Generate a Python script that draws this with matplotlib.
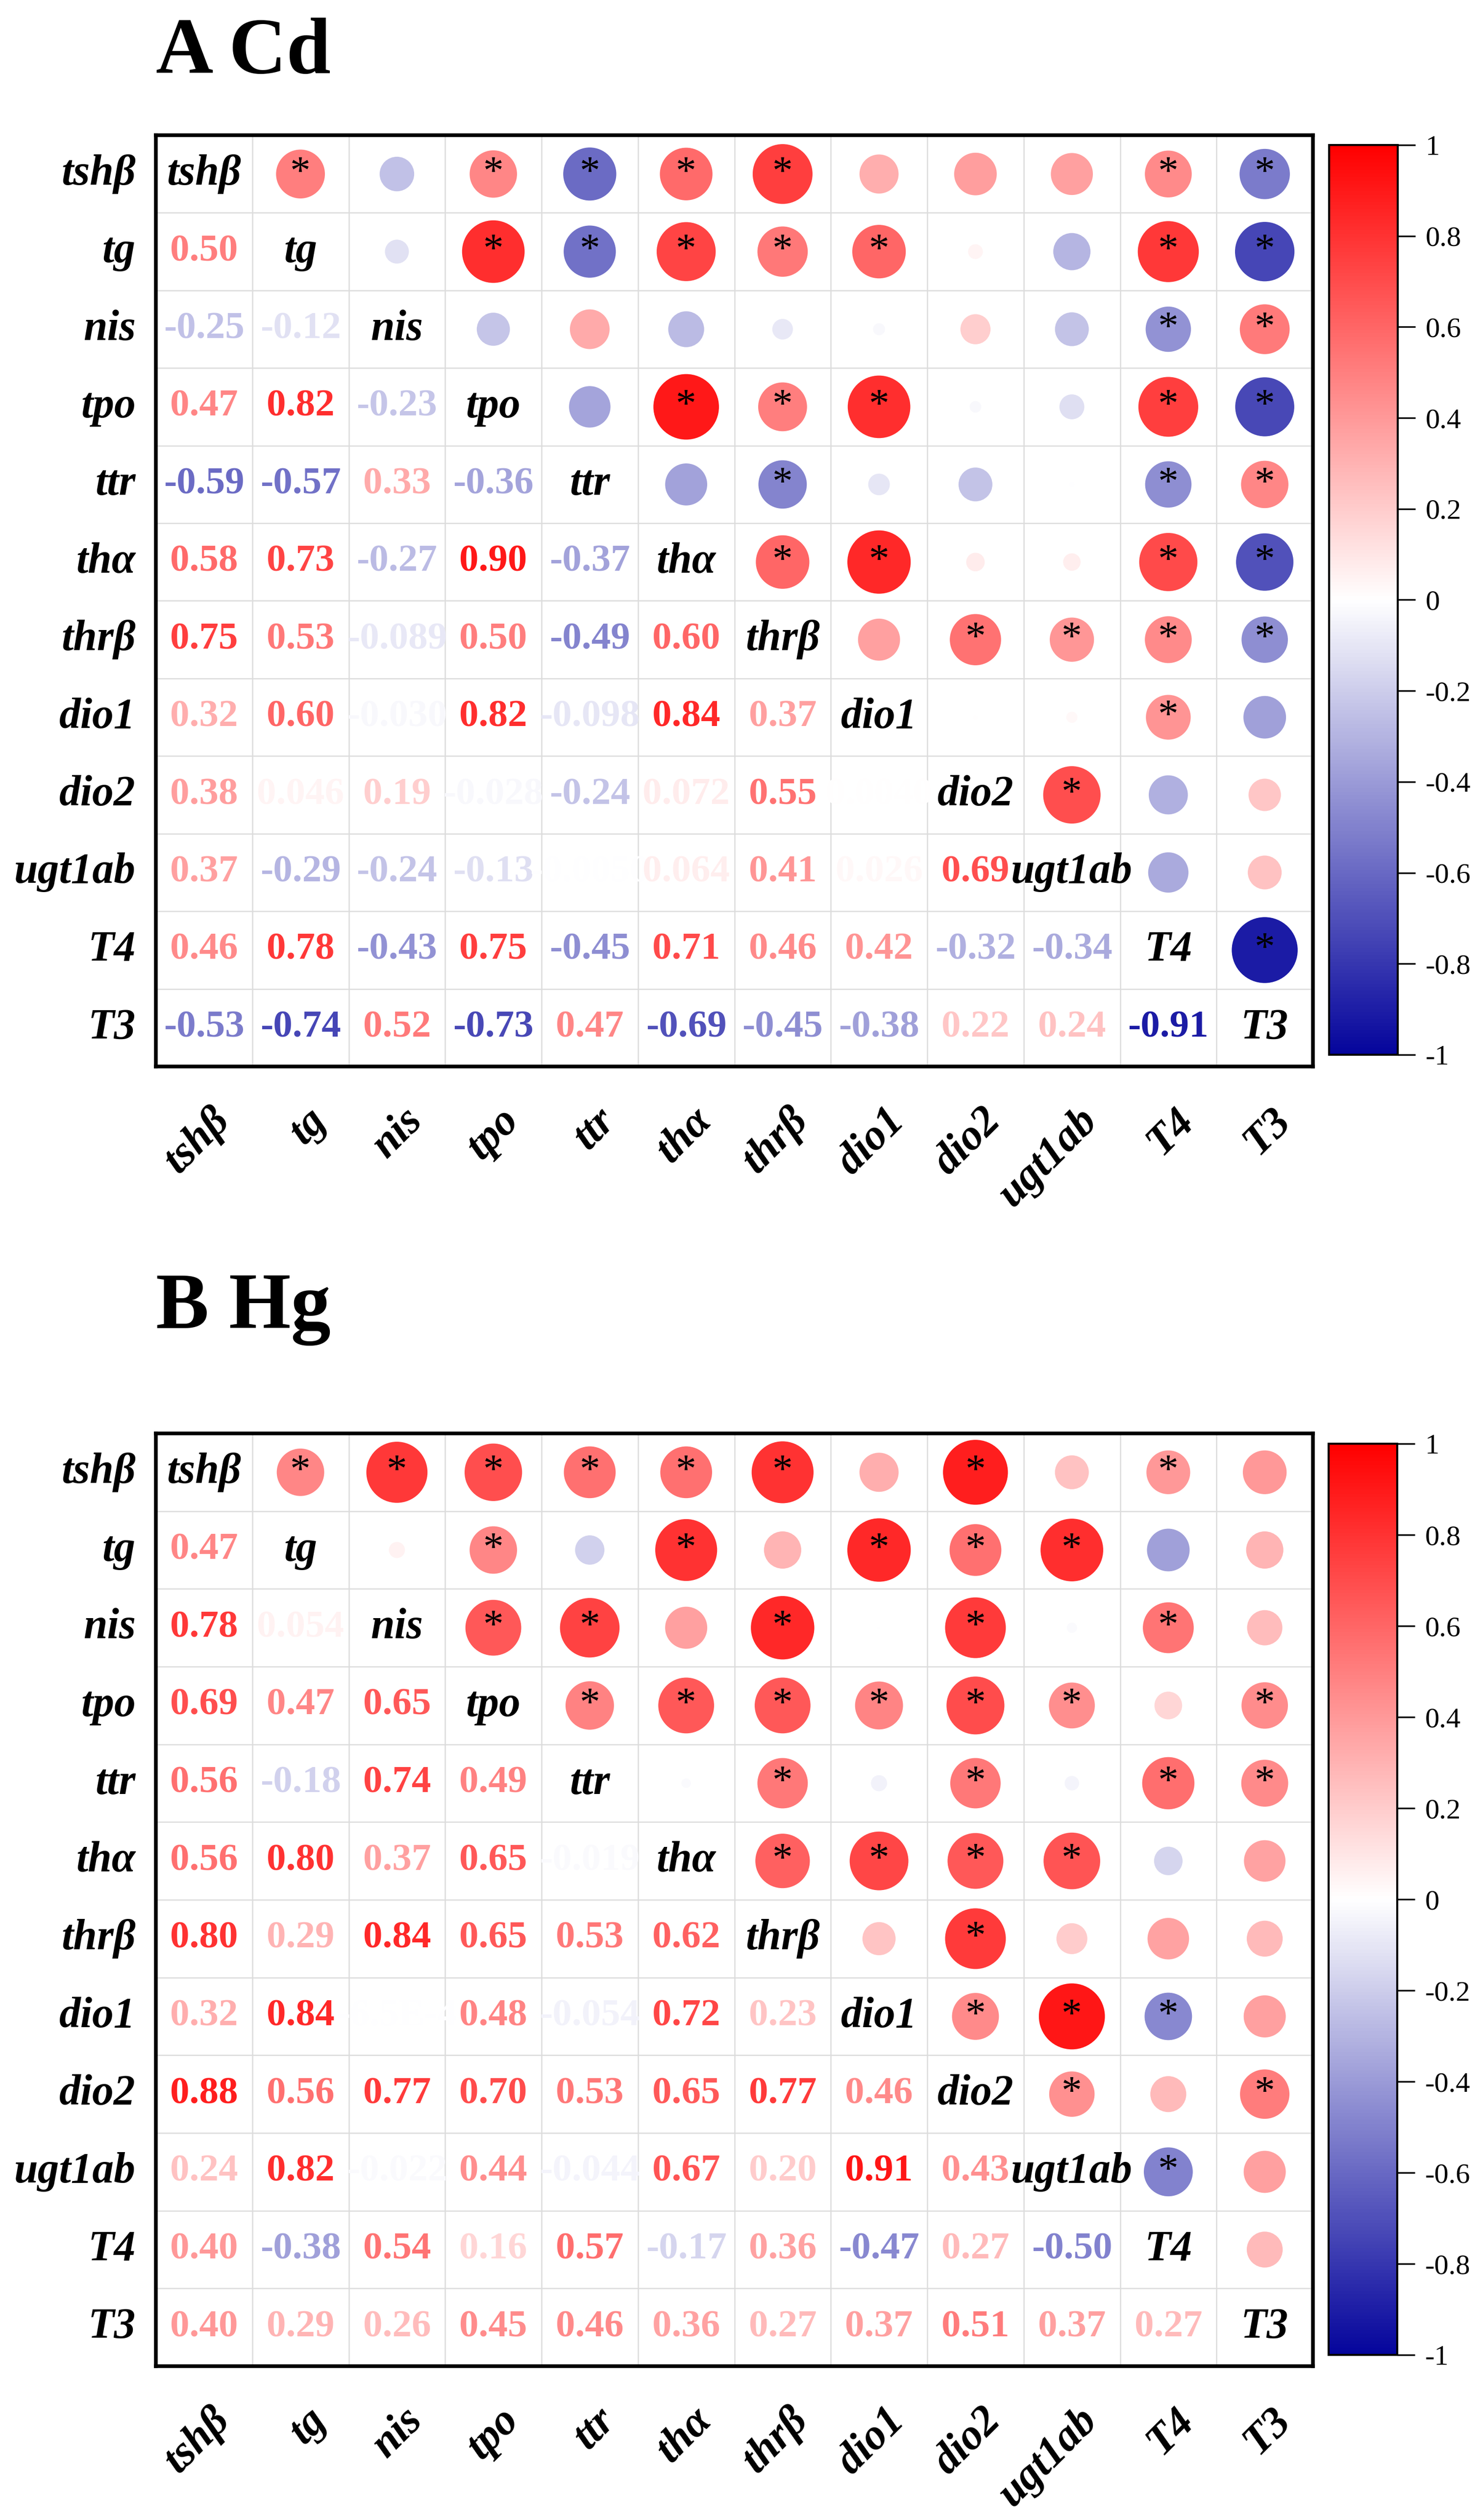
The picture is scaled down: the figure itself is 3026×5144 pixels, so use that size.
import numpy as np
import matplotlib
matplotlib.use("Agg")
import matplotlib.pyplot as plt
from matplotlib.colors import LinearSegmentedColormap, Normalize
from matplotlib.cm import ScalarMappable

plt.rcParams['font.family'] = ['Liberation Serif', 'DejaVu Serif']
plt.rcParams['axes.unicode_minus'] = False

genes = ['tshβ', 'tg', 'nis', 'tpo', 'ttr', 'thα', 'thrβ', 'dio1', 'dio2', 'ugt1ab', 'T4', 'T3']

# lower triangle correlations, row by row (row i has i values)
cd_lower = [
    [],
    [0.50],
    [-0.25, -0.12],
    [0.47, 0.82, -0.23],
    [-0.59, -0.57, 0.33, -0.36],
    [0.58, 0.73, -0.27, 0.90, -0.37],
    [0.75, 0.53, -0.089, 0.50, -0.49, 0.60],
    [0.32, 0.60, -0.030, 0.82, -0.098, 0.84, 0.37],
    [0.38, 0.046, 0.19, -0.028, -0.24, 0.072, 0.55, 0.004],
    [0.37, -0.29, -0.24, -0.13, -0.005, 0.064, 0.41, 0.026, 0.69],
    [0.46, 0.78, -0.43, 0.75, -0.45, 0.71, 0.46, 0.42, -0.32, -0.34],
    [-0.53, -0.74, 0.52, -0.73, 0.47, -0.69, -0.45, -0.38, 0.22, 0.24, -0.91],
]

hg_lower = [
    [],
    [0.47],
    [0.78, 0.054],
    [0.69, 0.47, 0.65],
    [0.56, -0.18, 0.74, 0.49],
    [0.56, 0.80, 0.37, 0.65, -0.019],
    [0.80, 0.29, 0.84, 0.65, 0.53, 0.62],
    [0.32, 0.84, -0.00065, 0.48, -0.054, 0.72, 0.23],
    [0.88, 0.56, 0.77, 0.70, 0.53, 0.65, 0.77, 0.46],
    [0.24, 0.82, -0.022, 0.44, -0.044, 0.67, 0.20, 0.91, 0.43],
    [0.40, -0.38, 0.54, 0.16, 0.57, -0.17, 0.36, -0.47, 0.27, -0.50],
    [0.40, 0.29, 0.26, 0.45, 0.46, 0.36, 0.27, 0.37, 0.51, 0.37, 0.27],
]

# significance in upper triangle, row i lists columns i+1 .. 11
cd_sig = [
    [1, 0, 1, 1, 1, 1, 0, 0, 0, 1, 1],
    [0, 1, 1, 1, 1, 1, 0, 0, 1, 1],
    [0, 0, 0, 0, 0, 0, 0, 1, 1],
    [0, 1, 1, 1, 0, 0, 1, 1],
    [0, 1, 0, 0, 0, 1, 1],
    [1, 1, 0, 0, 1, 1],
    [0, 1, 1, 1, 1],
    [0, 0, 1, 0],
    [1, 0, 0],
    [0, 0],
    [1],
]

hg_sig = [
    [1, 1, 1, 1, 1, 1, 0, 1, 0, 1, 0],
    [0, 1, 0, 1, 0, 1, 1, 1, 0, 0],
    [1, 1, 0, 1, 0, 1, 0, 1, 0],
    [1, 1, 1, 1, 1, 1, 0, 1],
    [0, 1, 0, 1, 0, 1, 1],
    [1, 1, 1, 1, 0, 0],
    [0, 1, 0, 0, 0],
    [1, 1, 1, 0],
    [1, 0, 1],
    [1, 0],
    [0],
]

cbar_ticks = [1, 0.8, 0.6, 0.4, 0.2, 0, -0.2, -0.4, -0.6, -0.8, -1]

cmap = LinearSegmentedColormap.from_list('bwr_origin', ['#05059C', '#ffffff', '#ff0000'])
norm = Normalize(-1, 1)


def fmt(v):
    a = abs(v)
    if a >= 0.1:
        return f"{v:.2f}"
    if a >= 0.001:
        dec = 2 - int(np.floor(np.log10(a))) - 1
        return f"{v:.{dec}f}"
    m, e = f"{v:.1e}".split('e')
    return f"{m}E{int(e)}"


def draw_panel(fig, rect, cbar_rect, title, title_y, lower, sig):
    n = len(genes)
    ax = fig.add_axes(rect)
    ax.set_xlim(0, n)
    ax.set_ylim(n, 0)
    ax.set_xticks([])
    ax.set_yticks([])
    for k in range(1, n):
        ax.axhline(k, color='#dcdcdc', lw=0.6, zorder=0)
        ax.axvline(k, color='#dcdcdc', lw=0.6, zorder=0)
    for sp in ax.spines.values():
        sp.set_linewidth(1.8)

    cell_h_pt = rect[3] * fig.get_figheight() * 72 / n
    dmax = 0.89 * cell_h_pt

    xs, ys, vs = [], [], []
    for i in range(n):
        for j in range(i):
            v = lower[i][j]
            # lower triangle: numbers
            ax.text(j + 0.5, i + 0.5, fmt(v), ha='center', va='center',
                    fontsize=19, fontweight='bold', color=cmap(norm(v)))
            # mirrored upper triangle: circles
            xs.append(i + 0.5)
            ys.append(j + 0.5)
            vs.append(v)
    vs = np.array(vs)
    ax.scatter(xs, ys, s=(dmax * np.sqrt(np.abs(vs))) ** 2, c=vs, cmap=cmap,
               norm=norm, linewidths=0, zorder=2)

    for i in range(n - 1):
        for k, flag in enumerate(sig[i]):
            if flag:
                ax.text(i + k + 1.5, i + 0.5, '*', ha='center', va='center',
                        fontsize=20, color='black', zorder=3)

    for i, g in enumerate(genes):
        ax.text(i + 0.5, i + 0.5, g, ha='center', va='center', fontsize=21,
                fontweight='bold', fontstyle='italic', zorder=3)
        ax.text(-0.21, i + 0.5, g, ha='right', va='center', fontsize=21,
                fontweight='bold', fontstyle='italic', clip_on=False)
        ax.text(i + 0.5 + 0.345, n + 0.44, g, ha='right', va='top', rotation=45,
                fontsize=21, fontweight='bold', fontstyle='italic', clip_on=False)

    fig.text(rect[0], title_y, title, ha='left', va='baseline',
             fontsize=39, fontweight='bold')

    cax = fig.add_axes(cbar_rect)
    cb = fig.colorbar(ScalarMappable(norm=norm, cmap=cmap), cax=cax)
    cb.set_ticks(cbar_ticks)
    cb.set_ticklabels([f"{t:g}" for t in cbar_ticks])
    cb.outline.set_linewidth(1.0)
    cax.tick_params(length=8.6, width=0.8, labelsize=14, pad=5)
    return ax


W, H = 3026, 5144
fig = plt.figure(figsize=(W / 300, H / 300), dpi=300)

draw_panel(fig,
           [318 / W, 1 - 2177 / H, (2679 - 318) / W, (2177 - 276) / H],
           [2712 / W, 1 - 2153 / H, 140 / W, (2153 - 296) / H],
           'A Cd', 1 - 149 / H, cd_lower, cd_sig)

draw_panel(fig,
           [318 / W, 1 - 4830 / H, (2679 - 318) / W, (4830 - 2926) / H],
           [2711 / W, 1 - 4807 / H, 140 / W, (4807 - 2947) / H],
           'B Hg', 1 - 2711 / H, hg_lower, hg_sig)

fig.savefig('out.png', dpi=300, facecolor='white')
